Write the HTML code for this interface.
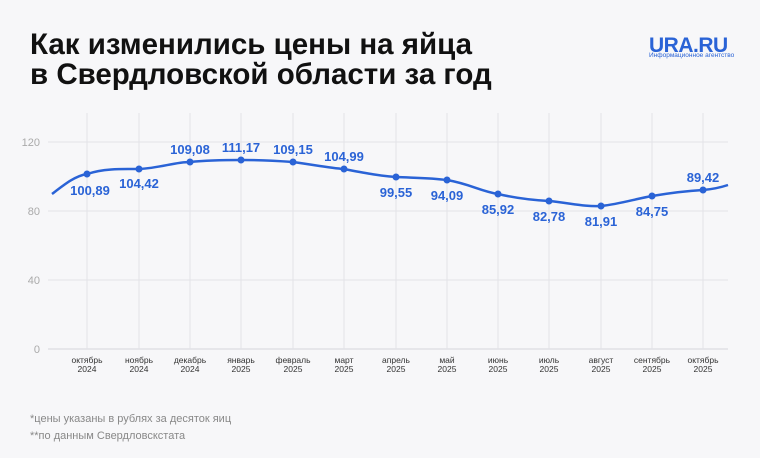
<!DOCTYPE html><html><head><meta charset="utf-8"><style>
body{margin:0;width:760px;height:458px;background:#f7f7f9;font-family:"Liberation Sans",sans-serif;overflow:hidden;position:relative}
h1{position:absolute;left:30px;top:30px;margin:0;font-size:29.5px;line-height:30px;font-weight:bold;color:#111;white-space:nowrap}
.logo{position:absolute;left:649px;top:34px;color:#2a63d6;font-weight:bold;font-size:21px;letter-spacing:-0.5px}
.logo2{position:absolute;left:649px;top:52px;color:#2a63d6;font-size:6.5px}
.fn{position:absolute;left:30px;font-size:11px;color:#888}
</style></head><body>
<h1>Как изменились цены на яйца<br>в Свердловской области за год</h1>
<div class="logo">URA.RU</div><div class="logo2">Информационное агентство</div>
<svg width="760" height="458" style="position:absolute;left:0;top:0">
<g stroke="#e3e3e8" stroke-width="1">
<line x1="48" y1="142" x2="728" y2="142"/><line x1="48" y1="211" x2="728" y2="211"/><line x1="48" y1="280" x2="728" y2="280"/>
<line x1="48" y1="349" x2="728" y2="349" stroke="#d5d5da"/>
<line x1="87" y1="113" x2="87" y2="349"/><line x1="139" y1="113" x2="139" y2="349"/><line x1="190" y1="113" x2="190" y2="349"/><line x1="241" y1="113" x2="241" y2="349"/><line x1="293" y1="113" x2="293" y2="349"/><line x1="344" y1="113" x2="344" y2="349"/><line x1="396" y1="113" x2="396" y2="349"/><line x1="447" y1="113" x2="447" y2="349"/><line x1="498" y1="113" x2="498" y2="349"/><line x1="549" y1="113" x2="549" y2="349"/><line x1="601" y1="113" x2="601" y2="349"/><line x1="652" y1="113" x2="652" y2="349"/><line x1="703" y1="113" x2="703" y2="349"/>
</g>
<g font-size="11" fill="#aaa" text-anchor="end"><text x="40" y="146">120</text><text x="40" y="215">80</text><text x="40" y="284">40</text><text x="40" y="353">0</text></g>
<path d="M52,194 C65,184 75,176 87,174 C105,168 125,169 139,169 C160,168 175,162 190,162 C210,160 225,160 241,160 C260,160 278,161 293,162 C315,165 330,168 344,169 C365,173 380,176 396,177 C420,178 432,178 447,180 C470,184 480,191 498,194 C515,198 530,200 549,201 C570,203 585,207 601,206 C620,204 635,199 652,196 C670,193 685,191 703,190 C715,189 722,187 728,185" fill="none" stroke="#2a63d6" stroke-width="2.5"/>
<g fill="#2a63d6">
<circle cx="87" cy="174" r="3.5"/><circle cx="139" cy="169" r="3.5"/><circle cx="190" cy="162" r="3.5"/><circle cx="241" cy="160" r="3.5"/><circle cx="293" cy="162" r="3.5"/><circle cx="344" cy="169" r="3.5"/><circle cx="396" cy="177" r="3.5"/><circle cx="447" cy="180" r="3.5"/><circle cx="498" cy="194" r="3.5"/><circle cx="549" cy="201" r="3.5"/><circle cx="601" cy="206" r="3.5"/><circle cx="652" cy="196" r="3.5"/><circle cx="703" cy="190" r="3.5"/>
</g>
<g font-size="13" font-weight="bold" fill="#2a63d6" text-anchor="middle">
<text x="90" y="195">100,89</text><text x="139" y="188">104,42</text><text x="190" y="154">109,08</text><text x="241" y="152">111,17</text><text x="293" y="154">109,15</text><text x="344" y="161">104,99</text><text x="396" y="197">99,55</text><text x="447" y="200">94,09</text><text x="498" y="214">85,92</text><text x="549" y="221">82,78</text><text x="601" y="226">81,91</text><text x="652" y="216">84,75</text><text x="703" y="182">89,42</text>
</g>
<g font-size="8.5" fill="#333" text-anchor="middle">
<text x="87" y="363">октябрь</text><text x="87" y="372">2024</text>
<text x="139" y="363">ноябрь</text><text x="139" y="372">2024</text>
<text x="190" y="363">декабрь</text><text x="190" y="372">2024</text>
<text x="241" y="363">январь</text><text x="241" y="372">2025</text>
<text x="293" y="363">февраль</text><text x="293" y="372">2025</text>
<text x="344" y="363">март</text><text x="344" y="372">2025</text>
<text x="396" y="363">апрель</text><text x="396" y="372">2025</text>
<text x="447" y="363">май</text><text x="447" y="372">2025</text>
<text x="498" y="363">июнь</text><text x="498" y="372">2025</text>
<text x="549" y="363">июль</text><text x="549" y="372">2025</text>
<text x="601" y="363">август</text><text x="601" y="372">2025</text>
<text x="652" y="363">сентябрь</text><text x="652" y="372">2025</text>
<text x="703" y="363">октябрь</text><text x="703" y="372">2025</text>
</g>
</svg>
<div class="fn" style="top:413px">*цены указаны в рублях за десяток яиц</div>
<div class="fn" style="top:430px">**по данным Свердловскстата</div>
</body></html>
